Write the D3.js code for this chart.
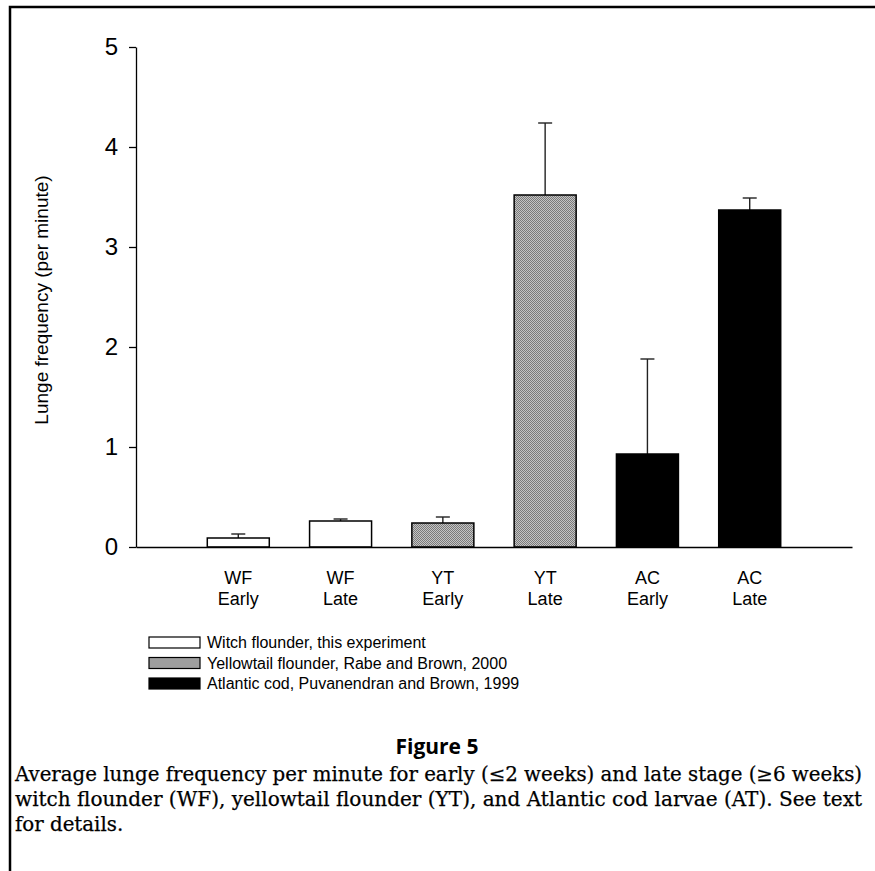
<!DOCTYPE html>
<html>
<head>
<meta charset="utf-8">
<script src="https://cdn.jsdelivr.net/npm/d3@7"></script>
<style>
  body { margin: 0; background: #fff; }
  svg { display: block; }
</style>
</head>
<body>
<svg id="chart" width="875" height="871"></svg>
<script>
// data
const species = ["WF", "WF", "YT", "YT", "AC", "AC"];
const stages = ["Early", "Late", "Early", "Late", "Early", "Late"];
const means = [0.09, 0.26, 0.24, 3.52, 0.93, 3.37];
const errors = [0.04, 0.02, 0.06, 0.72, 0.95, 0.12];
const yTicks = [0, 1, 2, 3, 4, 5];
const legendKeys = ["WF", "YT", "AC"];
const legendLabels = [
  "Witch flounder, this experiment",
  "Yellowtail flounder, Rabe and Brown, 2000",
  "Atlantic cod, Puvanendran and Brown, 1999"
];
const captionLines = [
  "Average lunge frequency per minute for early (\u22642 weeks) and late stage (\u22656 weeks)",
  "witch flounder (WF), yellowtail flounder (YT), and Atlantic cod larvae (AT). See text",
  "for details."
];

const sans = "'Liberation Sans', Arial, sans-serif";
const svg = d3.select("#chart");

// gray stipple used for the yellowtail bars
const pat = svg.append("defs").append("pattern")
  .attr("id", "stipple").attr("width", 2).attr("height", 2)
  .attr("patternUnits", "userSpaceOnUse");
pat.append("rect").attr("width", 2).attr("height", 2).attr("fill", "#c4c4c4");
pat.append("rect").attr("width", 1).attr("height", 1).attr("fill", "#7a7a7a");
pat.append("rect").attr("x", 1).attr("y", 1).attr("width", 1).attr("height", 1).attr("fill", "#7a7a7a");

const fills = {WF: "#fff", YT: "url(#stipple)", AC: "#000"};

// page frame (top and left rules)
svg.append("path")
  .attr("d", "M10,871V7H875")
  .attr("fill", "none").attr("stroke", "#000").attr("stroke-width", 2.5);

const rows = means.map((m, i) => ({key: species[i] + " " + stages[i], sp: species[i], stage: stages[i], m: m, e: errors[i]}));

const x = d3.scalePoint()
  .domain(rows.map(d => d.key))
  .range([136, 852])
  .padding(1);

const y = d3.scaleLinear()
  .domain([0, 5])
  .range([547, 47]);

const barW = 62;

// y axis
const yAxis = svg.append("g")
  .attr("transform", "translate(136,0)")
  .call(d3.axisLeft(y).tickValues(yTicks).tickFormat(d3.format("d"))
    .tickSize(7).tickSizeOuter(0).tickPadding(11));
yAxis.select(".domain").attr("stroke-width", 1.3);
yAxis.selectAll(".tick line").attr("stroke-width", 1.3);
yAxis.selectAll("text").attr("font-family", sans).attr("font-size", 24).attr("fill", "#000");

svg.append("text")
  .attr("transform", "translate(48,300) rotate(-90)")
  .attr("text-anchor", "middle")
  .attr("font-family", sans).attr("font-size", 19)
  .text("Lunge frequency (per minute)");

// error bars (upper only)
const eb = svg.append("g").attr("stroke", "#222").attr("stroke-width", 1.4);
eb.selectAll("line.stem").data(rows).join("line")
  .attr("class", "stem")
  .attr("x1", d => x(d.key)).attr("x2", d => x(d.key))
  .attr("y1", d => y(d.m)).attr("y2", d => y(d.m + d.e));
eb.selectAll("line.cap").data(rows).join("line")
  .attr("class", "cap")
  .attr("x1", d => x(d.key) - 7).attr("x2", d => x(d.key) + 7)
  .attr("y1", d => y(d.m + d.e)).attr("y2", d => y(d.m + d.e));

// bars
svg.append("g").selectAll("rect").data(rows).join("rect")
  .attr("x", d => x(d.key) - barW / 2)
  .attr("y", d => y(d.m))
  .attr("width", barW)
  .attr("height", d => y(0) - y(d.m))
  .attr("fill", d => fills[d.sp])
  .attr("stroke", "#000").attr("stroke-width", 1.5);

// x axis: baseline only, labels on two lines
const xAxis = svg.append("g")
  .attr("transform", "translate(0," + y(0) + ")")
  .call(d3.axisBottom(x).tickSize(0).tickSizeOuter(0).tickFormat(""));
xAxis.select(".domain").attr("stroke-width", 1.5);

const lab = svg.append("g").attr("font-family", sans).attr("font-size", 18).attr("text-anchor", "middle");
lab.selectAll("text.sp").data(rows).join("text")
  .attr("class", "sp")
  .attr("x", d => x(d.key)).attr("y", 584)
  .text(d => d.sp);
lab.selectAll("text.st").data(rows).join("text")
  .attr("class", "st")
  .attr("x", d => x(d.key)).attr("y", 605)
  .text(d => d.stage);

// legend
const leg = svg.append("g").selectAll("g").data(legendKeys).join("g")
  .attr("transform", (d, i) => "translate(149," + (637 + i * 20.5) + ")");
leg.append("rect")
  .attr("width", 51).attr("height", 11)
  .attr("fill", d => fills[d])
  .attr("stroke", "#000").attr("stroke-width", 1.2);
leg.append("text")
  .attr("x", 58).attr("y", 11)
  .attr("font-family", sans).attr("font-size", 16)
  .text((d, i) => legendLabels[i]);

// caption
svg.append("text")
  .attr("x", 437).attr("y", 754)
  .attr("text-anchor", "middle")
  .attr("font-family", "'Open Sans', 'Noto Sans', sans-serif")
  .attr("font-weight", 700).attr("font-size", 21)
  .attr("fill", "#000")
  .text("Figure 5");

// caption body: same horizontal squeeze on every line, first two fill the width
const cap = svg.append("g").selectAll("text").data(captionLines).join("text")
  .attr("x", 15)
  .attr("y", (d, i) => 781 + i * 25)
  .attr("font-family", "'DejaVu Serif', serif")
  .attr("font-size", 19.5)
  .attr("fill", "#000")
  .attr("stroke", "#000").attr("stroke-width", 0.25)
  .text(d => d);
const squeeze = 847 / cap.nodes()[0].getComputedTextLength();
cap.each(function (d, i) {
  d3.select(this)
    .attr("textLength", i < 2 ? 847 : this.getComputedTextLength() * squeeze)
    .attr("lengthAdjust", "spacingAndGlyphs");
});
</script>
</body>
</html>
